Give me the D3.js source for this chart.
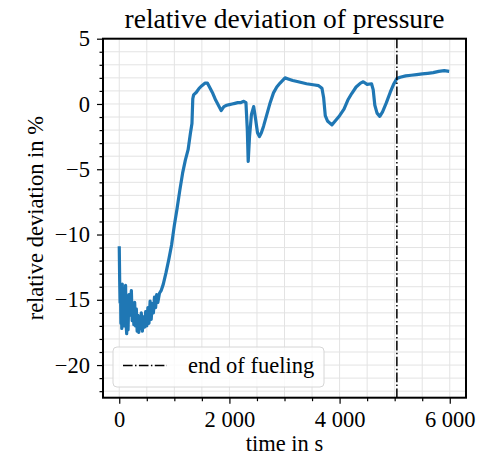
<!DOCTYPE html>
<html>
<head>
<meta charset="utf-8">
<script src="https://cdn.jsdelivr.net/npm/d3@7"></script>
<style>
  body { margin: 0; background: #fff; }
  svg { font-family: "Liberation Serif", "Times New Roman", serif; }
</style>
</head>
<body>
<svg id="chart" width="479" height="455"></svg>
<script>
// values
const time = [0, 8, 15, 22, 30, 38, 46, 55, 65, 75, 85, 95, 105, 115, 125, 135, 145, 160, 175, 190,
  205, 220, 235, 250, 265, 280, 295, 310, 325, 340, 355, 370, 385, 400, 420, 440, 460, 480, 500, 520,
  540, 560, 580, 600, 620, 640, 660, 680, 700, 730, 760, 800, 850, 900, 950, 1000, 1050, 1100, 1150, 1200,
  1250, 1290, 1320, 1335, 1350, 1400, 1450, 1500, 1560, 1600, 1650, 1700, 1750, 1800, 1850, 1900, 1950, 2000, 2050, 2100,
  2150, 2200, 2260, 2300, 2325, 2341, 2365, 2400, 2440, 2470, 2510, 2545, 2580, 2620, 2680, 2740, 2800, 2860, 2920, 3010,
  3080, 3150, 3250, 3400, 3550, 3620, 3680, 3710, 3740, 3780, 3860, 3920, 4000, 4080, 4150, 4220, 4300, 4380, 4430, 4500,
  4580, 4610, 4640, 4680, 4730, 4780, 4850, 4920, 4980, 5040, 5100, 5200, 5300, 5400, 5500, 5600, 5700, 5800, 5900, 5990];
const deviation = [-10.9, -13.6, -15.2, -13.9, -16.8, -14.5, -17.2, -13.8, -16.1, -15.0, -17.0, -14.3, -16.5, -13.9, -16.9, -17.6, -15.1, -17.3, -14.6, -16.2,
  -15.0, -14.3, -16.6, -15.4, -16.9, -15.2, -17.0, -15.7, -17.4, -16.2, -17.5, -16.3, -17.2, -16.0, -17.4, -16.3, -17.1, -15.9, -17.0, -15.6,
  -16.8, -15.1, -16.5, -15.3, -16.0, -14.8, -15.6, -14.6, -15.2, -14.5, -14.3, -13.8, -12.9, -11.9, -10.8, -9.3, -8.0, -6.6, -5.3, -4.3,
  -3.5, -2.3, -1.5, 0.4, 0.7, 0.9, 1.2, 1.4, 1.6, 1.6, 1.2, 0.8, 0.3, -0.1, -0.5, -0.2, -0.1, -0.05, 0.0, 0.05,
  0.1, 0.1, 0.2, 0.1, -2.0, -4.4, -2.5, -0.8, -0.2, -1.0, -2.2, -2.5, -2.2, -1.7, -0.8, 0.1, 0.85, 1.3, 1.6, 2.0,
  1.9, 1.8, 1.7, 1.55, 1.45, 1.4, 1.2, 0.5, -0.9, -1.3, -1.6, -1.3, -0.9, -0.4, 0.3, 0.8, 1.3, 1.6, 1.7, 1.5,
  1.55, 1.1, -0.1, -0.7, -0.95, -0.6, 0.1, 0.9, 1.5, 1.95, 2.05, 2.15, 2.2, 2.25, 2.3, 2.35, 2.4, 2.5, 2.55, 2.5];
const fuelingEnd = 5040;
const xTicks = [0, 2000, 4000, 6000];
const yTicks = [-20, -15, -10, -5, 0, 5];
const xMinor = d3.range(0, 6001, 500);
const yMinor = d3.range(-22, 6, 1);

const svg = d3.select('#chart');
const mLeft = 103, mRight = 466, mTop = 38.7, mBottom = 397.7;

const x = d3.scaleLinear().domain([-295, 6295]).range([mLeft, mRight]);
const y = d3.scaleLinear().domain([-22.5, 5]).range([mBottom, mTop]);

// grid
const grid = svg.append('g').attr('stroke', '#e3e3e3').attr('stroke-width', 1);
grid.selectAll('line.gx').data(xMinor).enter().append('line')
  .attr('x1', d => x(d)).attr('x2', d => x(d)).attr('y1', mTop).attr('y2', mBottom);
grid.selectAll('line.gy').data(yMinor).enter().append('line')
  .attr('x1', mLeft).attr('x2', mRight).attr('y1', d => y(d)).attr('y2', d => y(d));

// series (thick stroke stands in for the sensor noise band)
const line = d3.line().x((d, i) => x(time[i])).y(d => y(d));
svg.append('path')
  .datum(deviation)
  .attr('d', line)
  .attr('fill', 'none')
  .attr('stroke', '#1f77b4')
  .attr('stroke-width', 3.2)
  .attr('stroke-linejoin', 'round');

// end of fueling
svg.append('line')
  .attr('x1', x(fuelingEnd)).attr('x2', x(fuelingEnd))
  .attr('y1', mTop).attr('y2', mBottom)
  .attr('stroke', '#000').attr('stroke-width', 1.5)
  .attr('stroke-dasharray', '9.6,2.4,1.5,2.4');

// axes
const fmtX = d => d3.format(',')(d).replace(',', ' ');
svg.append('g').attr('transform', `translate(0,${mBottom})`)
  .call(d3.axisBottom(x).tickValues(xTicks).tickFormat(fmtX).tickSize(6).tickPadding(7));
svg.append('g').attr('transform', `translate(0,${mBottom})`)
  .call(d3.axisBottom(x).tickValues(xMinor.filter(d => d % 2000)).tickFormat('').tickSize(3.5));
svg.append('g').attr('transform', `translate(${mLeft},0)`)
  .call(d3.axisLeft(y).tickValues(yTicks).tickSize(6).tickPadding(7));
svg.append('g').attr('transform', `translate(${mLeft},0)`)
  .call(d3.axisLeft(y).tickValues(yMinor.filter(d => d % 5)).tickFormat('').tickSize(3.5));

svg.selectAll('.domain').remove();
svg.selectAll('.tick line').attr('stroke', '#000').attr('stroke-width', 1.2);
svg.selectAll('.tick text').attr('fill', '#000')
  .style('font-family', '"Liberation Serif", serif').style('font-size', '22.5px');

// frame
svg.append('rect')
  .attr('x', mLeft).attr('y', mTop)
  .attr('width', mRight - mLeft).attr('height', mBottom - mTop)
  .attr('fill', 'none').attr('stroke', '#000').attr('stroke-width', 2);

// texts
svg.append('text').attr('x', (mLeft + mRight) / 2).attr('y', 28)
  .attr('text-anchor', 'middle').style('font-size', '27.5px')
  .text('relative deviation of pressure');
svg.append('text').attr('x', (mLeft + mRight) / 2).attr('y', 451)
  .attr('text-anchor', 'middle').style('font-size', '22.5px')
  .text('time in s');
svg.append('text').attr('transform', `translate(43,${(mTop + mBottom) / 2}) rotate(-90)`)
  .attr('text-anchor', 'middle').style('font-size', '22.5px')
  .text('relative deviation in %');

// legend
const legend = svg.append('g');
legend.append('rect')
  .attr('x', 113).attr('y', 347).attr('width', 211).attr('height', 40).attr('rx', 4)
  .attr('fill', 'rgba(255,255,255,0.8)').attr('stroke', '#d6d6d6').attr('stroke-width', 1);
legend.append('line')
  .attr('x1', 123).attr('x2', 167).attr('y1', 365.5).attr('y2', 365.5)
  .attr('stroke', '#000').attr('stroke-width', 1.5)
  .attr('stroke-dasharray', '9.6,2.4,1.5,2.4');
legend.append('text').attr('x', 188).attr('y', 373)
  .style('font-size', '22.5px').text('end of fueling');
</script>
</body>
</html>
